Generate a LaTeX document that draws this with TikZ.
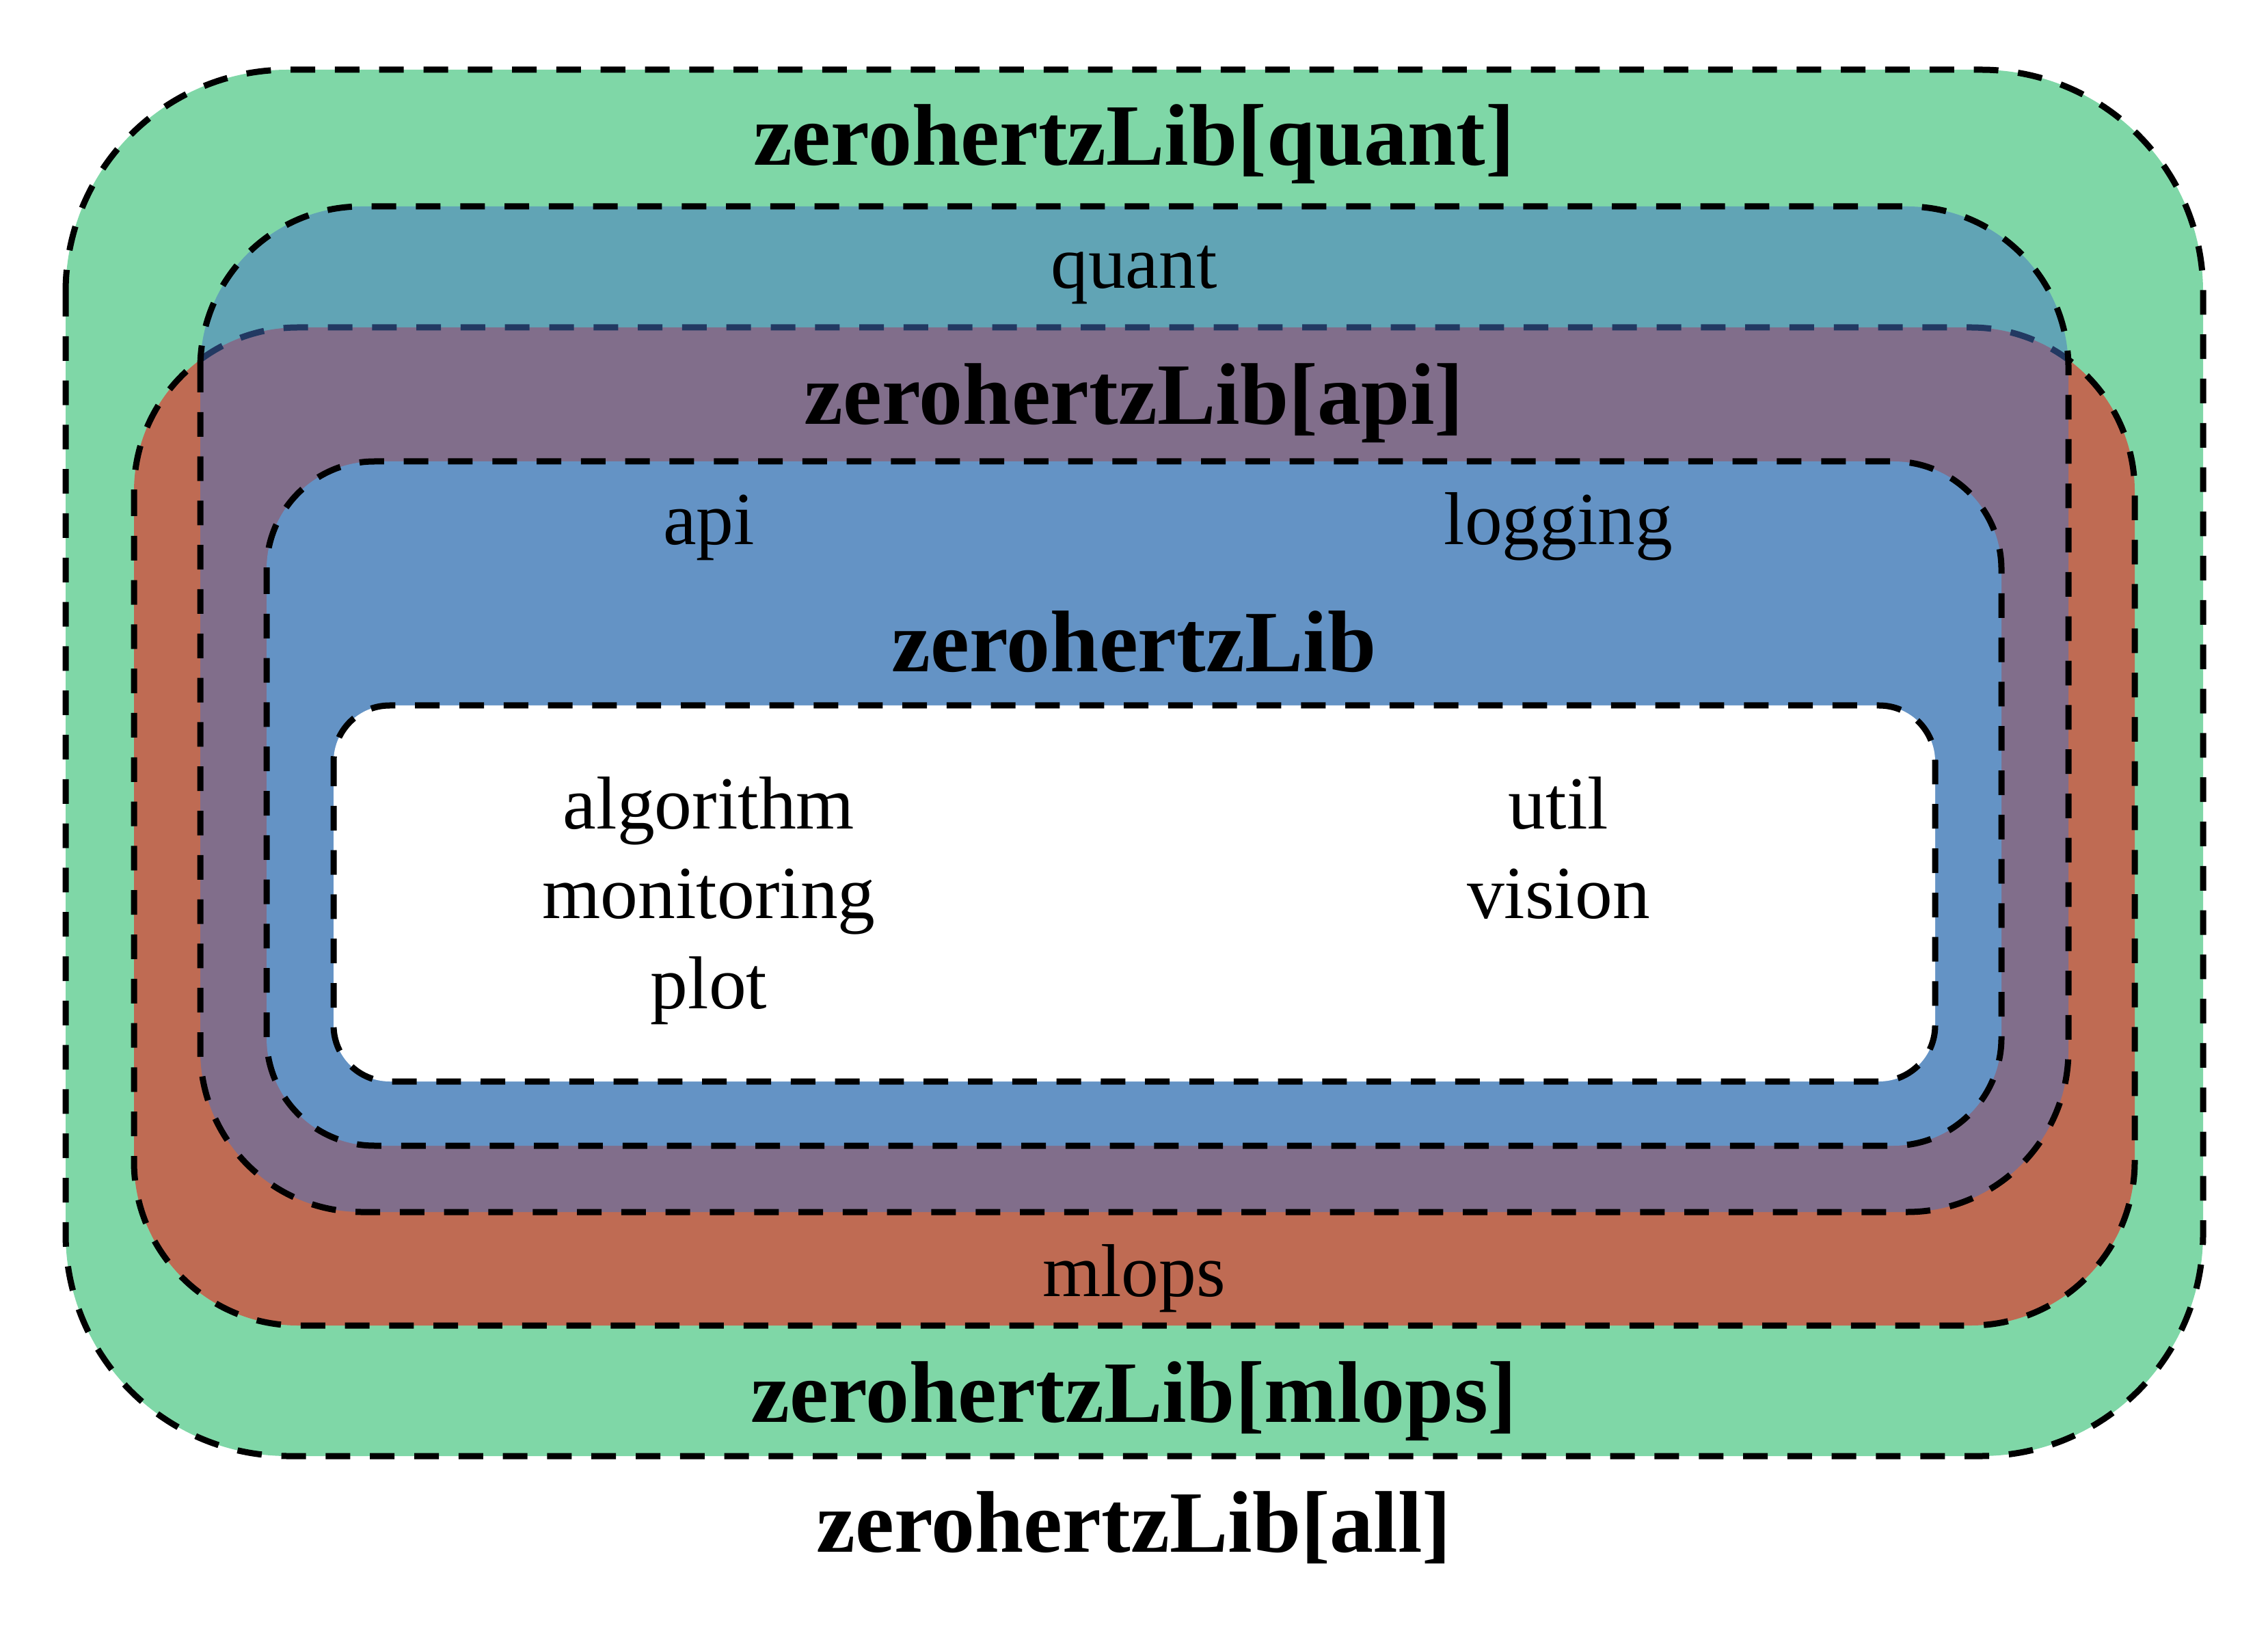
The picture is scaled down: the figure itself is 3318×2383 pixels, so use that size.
\documentclass[tikz,border=0pt]{standalone}
\usepackage{fontspec}
\setmainfont{Liberation Serif}
\definecolor{cgreen}{RGB}{0,176,80}
\definecolor{cred}{RGB}{255,0,0}
\definecolor{cteal}{RGB}{68,114,196}
\definecolor{cblue}{RGB}{100,147,197}
\tikzset{
  setbox/.style={draw=black, line width=2.25pt, dash pattern=on 9pt off 7.2pt},
  halfbox/.style={setbox, fill opacity=0.5, draw opacity=1},
  title/.style={anchor=base, inner sep=0pt, font=\fontsize{32}{38.4}\selectfont\bfseries},
  member/.style={anchor=base, inner sep=0pt, font=\fontsize{27.4}{32.9}\selectfont},
}
\begin{document}
\begin{tikzpicture}[x=0.25pt,y=-0.25pt]
\useasboundingbox (0,0) rectangle (3318,2383);
% boxes
\draw[halfbox, fill=cgreen, rounded corners=81.25pt] (96,102) rectangle (3223,2130);
\draw[halfbox, fill=cred, rounded corners=60pt] (196,479) rectangle (3123,1939);
\draw[halfbox, fill=cteal, rounded corners=59pt] (293,302) rectangle (3026,1773);
\draw[setbox, fill=cblue, rounded corners=39.5pt] (390,675) rectangle (2928,1676);
\draw[setbox, fill=white, rounded corners=20.5pt] (488,1032) rectangle (2831,1582);
% labels
\node[title] (tquant) at (1659,241.6) {zerohertzLib[quant]};
\node[member] (mquant) at (1659,422) {quant};
\node[title] (tapi) at (1659,621) {zerohertzLib[api]};
\node[member] (mapi) at (1037,797) {api};
\node[member] (mlog) at (2280,797) {logging};
\node[title] (tcore) at (1659,982.6) {zerohertzLib};
\node[member] (malg) at (1037,1212) {algorithm};
\node[member] (mmon) at (1037,1343.5) {monitoring};
\node[member] (mplot) at (1037,1475) {plot};
\node[member] (mutil) at (2280,1212) {util};
\node[member] (mvis) at (2280,1343.5) {vision};
\node[member] (mmlops) at (1659,1896) {mlops};
\node[title] (tmlops) at (1659,2080) {zerohertzLib[mlops]};
\node[title] (tall) at (1659,2270) {zerohertzLib[all]};
\end{tikzpicture}
\end{document}
